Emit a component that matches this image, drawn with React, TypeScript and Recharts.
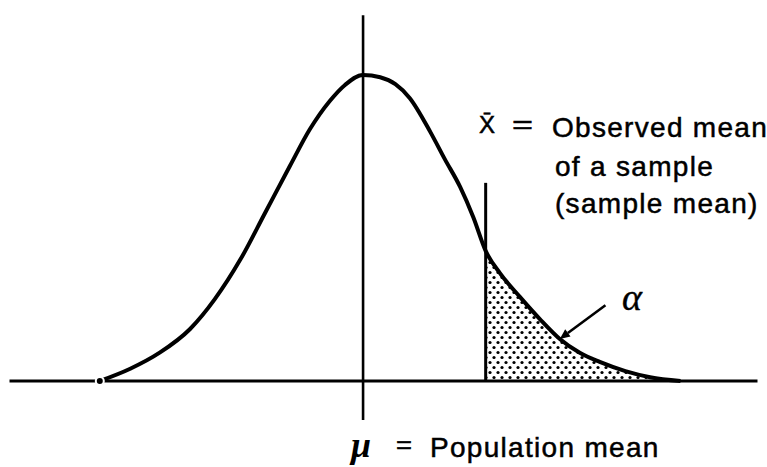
import React from 'react';
import { ComposedChart, Line, Area, XAxis, YAxis, ReferenceLine } from 'recharts';

// Curve: position in standard deviations from the mean (z) and relative density
const zValues = [
  -2.77, -2.45, -2.14, -1.82, -1.56, -1.29, -1.03, -0.77, -0.56, -0.35, -0.19, 0,
  0.18, 0.34, 0.49, 0.71, 0.86, 1.02, 1.16, 1.29, 1.44, 1.65, 1.86, 2.07, 2.28, 2.49, 2.76, 3.02, 3.34,
];
const densityValues = [
  0, 0.016, 0.037, 0.068, 0.107, 0.159, 0.22, 0.281, 0.329, 0.366, 0.387, 0.4,
  0.397, 0.388, 0.37, 0.325, 0.29, 0.254, 0.214, 0.17, 0.141, 0.11, 0.081, 0.055, 0.037, 0.025, 0.013, 0.005, 0,
];

// Key positions
const muZ = 0;
const xBarZ = 1.29;
const xDomain: [number, number] = [-3.82, 4.25];
const yDomain: [number, number] = [-0.1124, 0.498];
const baselineExtent = [-3.72, 4.15];
const muLineExtent = [-0.051, 0.478];
const xBarLineTop = 0.259;
const arrowFrom = { z: 2.55, d: 0.099 };
const arrowTo = { z: 2.07, d: 0.055 };

// Labels
const xBarSymbol = 'X\u0304';
const equalsSign = '=';
const xBarText = 'Observed mean';
const xBarText2 = 'of a sample';
const xBarText3 = '(sample mean)';
const alphaText = '\u03B1';
const muSymbol = '\u03BC';
const muText = 'Population mean';

const data = zValues.map((z, i) => ({
  z,
  density: densityValues[i],
  tail: z >= xBarZ ? densityValues[i] : null,
}));

const font = '"Liberation Sans", Arial, sans-serif';
const textStyle = { fontFamily: font, fill: '#000', stroke: '#000', strokeWidth: 0.5 } as const;

const ArrowShape = (props: any) => {
  const { x1, y1, x2, y2 } = props;
  const ang = Math.atan2(y2 - y1, x2 - x1);
  const len = 10;
  const w = 4.5;
  const bx = x2 - len * Math.cos(ang);
  const by = y2 - len * Math.sin(ang);
  const px = -Math.sin(ang) * w;
  const py = Math.cos(ang) * w;
  return (
    <g>
      <line x1={x1} y1={y1} x2={bx} y2={by} stroke="#000" strokeWidth={2.6} />
      <polygon points={`${x2},${y2} ${bx + px},${by + py} ${bx - px},${by - py}`} fill="#000" />
    </g>
  );
};

export default function App() {
  return (
    <div style={{ position: 'absolute', left: 0, top: 0, width: 767, height: 467, background: '#fff' }}>
      <ComposedChart width={767} height={467} data={data} margin={{ top: 0, right: 0, bottom: 0, left: 0 }}>
        <defs>
          <pattern id="dots" width="8" height="10" patternUnits="userSpaceOnUse">
            <circle cx="2" cy="2.5" r="1.6" fill="#000" />
            <circle cx="6" cy="7.5" r="1.6" fill="#000" />
          </pattern>
        </defs>
        <XAxis type="number" dataKey="z" domain={xDomain} allowDataOverflow hide />
        <YAxis type="number" domain={yDomain} allowDataOverflow hide />
        <Area
          type="monotone"
          dataKey="tail"
          stroke="none"
          fill="url(#dots)"
          fillOpacity={1}
          isAnimationActive={false}
          baseValue={0}
        />
        <ReferenceLine
          segment={[{ x: baselineExtent[0], y: 0 }, { x: baselineExtent[1], y: 0 }]}
          stroke="#000"
          strokeWidth={3.2}
        />
        <ReferenceLine
          segment={[{ x: muZ, y: muLineExtent[0] }, { x: muZ, y: muLineExtent[1] }]}
          stroke="#000"
          strokeWidth={2.6}
        />
        <ReferenceLine
          segment={[{ x: xBarZ, y: 0 }, { x: xBarZ, y: xBarLineTop }]}
          stroke="#000"
          strokeWidth={3}
        />
        <Line
          type="monotone"
          dataKey="density"
          stroke="#000"
          strokeWidth={4}
          dot={false}
          isAnimationActive={false}
        />
        <ReferenceLine
          segment={[{ x: arrowFrom.z, y: arrowFrom.d }, { x: arrowTo.z, y: arrowTo.d }]}
          shape={ArrowShape}
        />
        <text x={479} y={133} fontSize={24} {...textStyle}>{xBarSymbol}</text>
        <text x={512} y={133} fontSize={26} textLength={21} lengthAdjust="spacingAndGlyphs" {...textStyle}>{equalsSign}</text>
        <text x={552} y={137} fontSize={28} letterSpacing={1.3} {...textStyle}>{xBarText}</text>
        <text x={555} y={176} fontSize={28} letterSpacing={1.3} {...textStyle}>{xBarText2}</text>
        <text x={555} y={213} fontSize={28} letterSpacing={1.3} {...textStyle}>{xBarText3}</text>
        <text x={622} y={310} fontFamily='"Liberation Serif", serif' fontStyle="italic" fontSize={38} fill="#000" stroke="#000" strokeWidth={0.4}>{alphaText}</text>
        <text x={351} y={457} fontFamily='"Liberation Serif", serif' fontStyle="italic" fontWeight="bold" fontSize={36} fill="#000">{muSymbol}</text>
        <text x={396} y={453} fontSize={24} textLength={16} lengthAdjust="spacingAndGlyphs" {...textStyle}>{equalsSign}</text>
        <text x={430} y={457} fontSize={28} letterSpacing={1.3} {...textStyle}>{muText}</text>
      </ComposedChart>
    </div>
  );
}
